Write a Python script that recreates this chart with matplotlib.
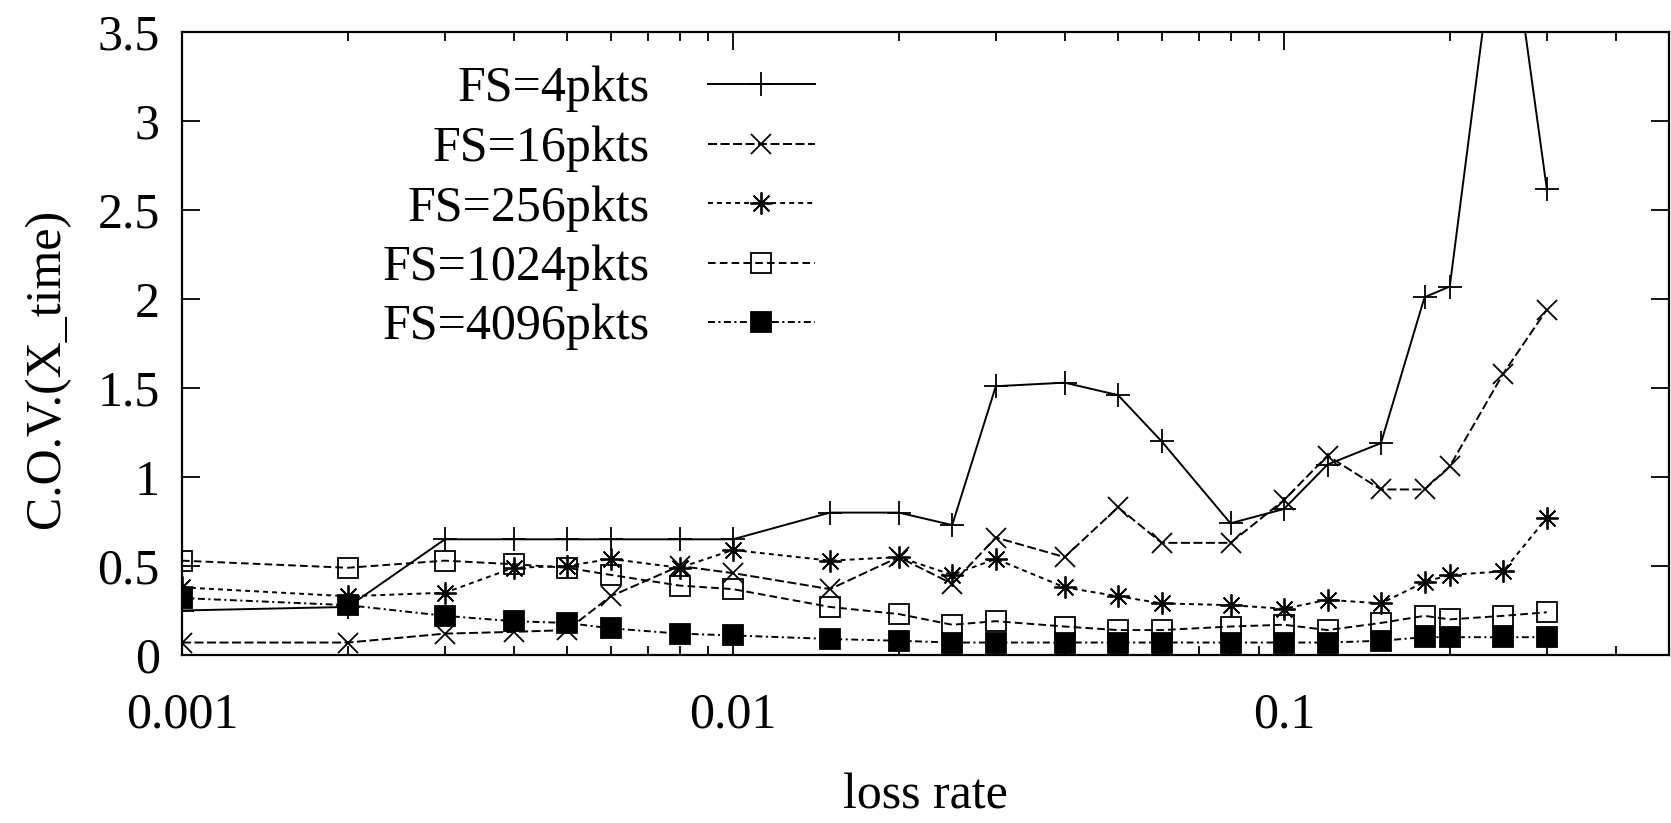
import matplotlib
matplotlib.use("Agg")
import matplotlib.pyplot as plt
from matplotlib.ticker import FixedLocator, LogLocator, NullFormatter, FixedFormatter

plt.rcParams['font.family'] = ['Liberation Serif', 'DejaVu Serif']
plt.rcParams['lines.scale_dashes'] = False

loss_rate = [0.001, 0.002, 0.003, 0.004, 0.005, 0.006, 0.008, 0.01, 0.015, 0.02,
             0.025, 0.03, 0.04, 0.05, 0.06, 0.08, 0.1, 0.12, 0.15, 0.18, 0.2, 0.25, 0.3]

fs4 = [0.25, 0.27, 0.65, 0.65, 0.65, 0.65, 0.65, 0.65, 0.80, 0.80, 0.73, 1.51,
       1.53, 1.46, 1.20, 0.74, 0.82, 1.07, 1.19, 2.01, 2.07, 4.4, 2.62]
fs16 = [0.07, 0.07, 0.12, 0.13, 0.14, 0.33, 0.50, 0.46, 0.37, 0.55, 0.40, 0.66,
        0.55, 0.83, 0.63, 0.63, 0.87, 1.12, 0.93, 0.93, 1.06, 1.58, 1.94]
fs256 = [0.38, 0.33, 0.35, 0.49, 0.50, 0.54, 0.49, 0.59, 0.53, 0.55, 0.45, 0.54,
         0.38, 0.33, 0.29, 0.28, 0.26, 0.31, 0.29, 0.41, 0.45, 0.47, 0.77]
fs1024 = [0.53, 0.49, 0.53, 0.51, 0.49, 0.45, 0.39, 0.37, 0.27, 0.23, 0.17, 0.19,
          0.16, 0.14, 0.14, 0.16, 0.17, 0.14, 0.18, 0.22, 0.20, 0.22, 0.24]
fs4096 = [0.32, 0.28, 0.22, 0.19, 0.18, 0.15, 0.12, 0.11, 0.09, 0.08, 0.07, 0.07,
          0.07, 0.07, 0.07, 0.07, 0.07, 0.07, 0.08, 0.10, 0.10, 0.10, 0.10]

labels = ["FS=4pkts", "FS=16pkts", "FS=256pkts", "FS=1024pkts", "FS=4096pkts"]
x_ticks = [0.001, 0.01, 0.1]
x_ticklabels = ["0.001", "0.01", "0.1"]
y_ticks = [0, 0.5, 1, 1.5, 2, 2.5, 3, 3.5]
y_ticklabels = ["0", "0.5", "1", "1.5", "2", "2.5", "3", "3.5"]

fig = plt.figure(figsize=(16.71, 8.23), dpi=100)
ax = fig.add_axes([182/1671, 1 - 655/823, (1669-182)/1671, (655-32)/823])

FS = 36
lw = 1.4
mew = 1.3
ax.plot(loss_rate, fs4, color='black', lw=lw, linestyle='-', marker='+',
        ms=17, mew=mew, label=labels[0])
ax.plot(loss_rate, fs16, color='black', lw=lw, linestyle=(0, (6.5, 2.5)), marker='x',
        ms=15, mew=mew, label=labels[1])
ax.plot(loss_rate, fs256, color='black', lw=lw, linestyle=(0, (3.5, 3)), marker=(8, 2, 0),
        ms=16, mew=mew, label=labels[2])
ax.plot(loss_rate, fs1024, color='black', lw=lw, linestyle=(0, (5.5, 3)), marker='s',
        ms=14, mew=mew, mfc='none', label=labels[3])
ax.plot(loss_rate, fs4096, color='black', lw=lw, linestyle=(0, (5, 2.5, 1.5, 2.5)), marker='s',
        ms=14, mew=mew, mfc='black', label=labels[4])

ax.set_xscale('log')
ax.set_xlim(0.001, 0.5)
ax.set_ylim(0, 3.5)

ax.xaxis.set_major_locator(FixedLocator(x_ticks))
ax.xaxis.set_major_formatter(FixedFormatter(x_ticklabels))
ax.xaxis.set_minor_locator(LogLocator(base=10, subs=[2, 3, 4, 5, 6, 7, 8, 9], numticks=20))
ax.xaxis.set_minor_formatter(NullFormatter())
ax.yaxis.set_major_locator(FixedLocator(y_ticks))
ax.yaxis.set_major_formatter(FixedFormatter(y_ticklabels))

ax.tick_params(which='both', direction='in', top=True, right=True, width=1.3, labelsize=FS)
ax.tick_params(which='major', length=13)
ax.tick_params(which='minor', length=6.5)
ax.tick_params(axis='x', which='major', pad=27)
ax.tick_params(axis='y', which='major', pad=16)
for s in ax.spines.values():
    s.set_linewidth(1.6)

ax.set_xlabel("loss rate", fontsize=FS)
ax.set_ylabel("C.O.V.(X_time)", fontsize=FS)
ax.xaxis.set_label_coords(0.5, -0.19)
ax.yaxis.set_label_coords(-0.075, 0.46)

leg = ax.legend(loc='upper right', bbox_to_anchor=(815/1671, 1 - 66/823),
                bbox_transform=fig.transFigure, frameon=False, fontsize=FS,
                markerfirst=False, handlelength=2.15, handletextpad=1.15,
                labelspacing=0.26, borderpad=0, borderaxespad=0)

fig.savefig("out.png", dpi=100)
